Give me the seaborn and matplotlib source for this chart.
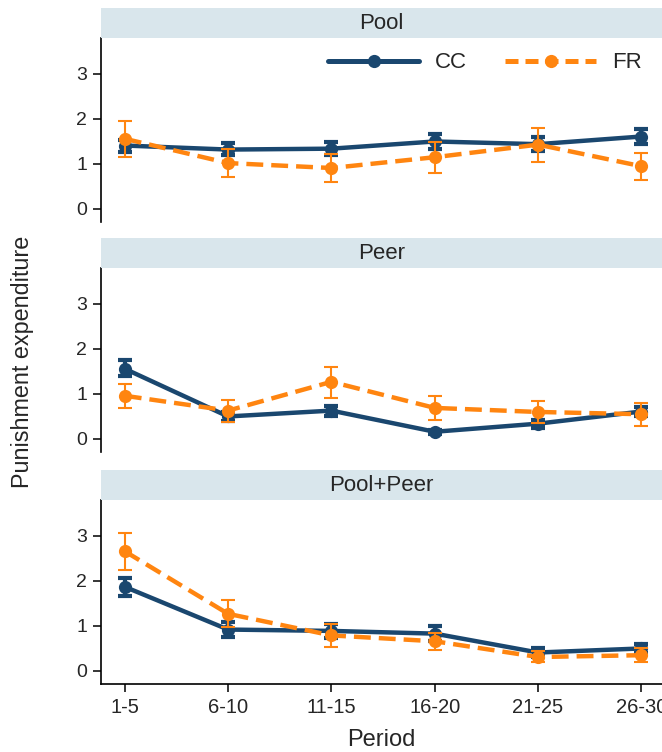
import numpy as np
import pandas as pd
import matplotlib
matplotlib.use("Agg")
import matplotlib.pyplot as plt
import seaborn as sns
from matplotlib.lines import Line2D

periods = ["1-5", "6-10", "11-15", "16-20", "21-25", "26-30"]
panels = ["Pool", "Peer", "Pool+Peer"]

pool_cc = [1.41, 1.32, 1.34, 1.50, 1.44, 1.61]
pool_cc_lo = [1.27, 1.19, 1.21, 1.34, 1.28, 1.45]
pool_cc_hi = [1.53, 1.46, 1.48, 1.66, 1.60, 1.78]
pool_fr = [1.56, 1.02, 0.91, 1.15, 1.43, 0.95]
pool_fr_lo = [1.16, 0.70, 0.59, 0.81, 1.04, 0.65]
pool_fr_hi = [1.96, 1.33, 1.22, 1.48, 1.81, 1.24]

peer_cc = [1.56, 0.50, 0.63, 0.16, 0.34, 0.61]
peer_cc_lo = [1.39, 0.40, 0.52, 0.12, 0.25, 0.50]
peer_cc_hi = [1.76, 0.60, 0.74, 0.20, 0.43, 0.72]
peer_fr = [0.96, 0.63, 1.27, 0.69, 0.60, 0.55]
peer_fr_lo = [0.68, 0.38, 0.90, 0.42, 0.36, 0.29]
peer_fr_hi = [1.22, 0.87, 1.61, 0.95, 0.84, 0.79]

pp_cc = [1.87, 0.92, 0.89, 0.83, 0.41, 0.50]
pp_cc_lo = [1.66, 0.76, 0.73, 0.66, 0.31, 0.39]
pp_cc_hi = [2.07, 1.08, 1.05, 1.00, 0.51, 0.61]
pp_fr = [2.66, 1.27, 0.79, 0.66, 0.31, 0.35]
pp_fr_lo = [2.24, 0.98, 0.53, 0.46, 0.19, 0.19]
pp_fr_hi = [3.07, 1.57, 1.05, 0.85, 0.44, 0.52]

yticks = [0, 1, 2, 3]

data = {
    "Pool": {"CC": (pool_cc, pool_cc_lo, pool_cc_hi), "FR": (pool_fr, pool_fr_lo, pool_fr_hi)},
    "Peer": {"CC": (peer_cc, peer_cc_lo, peer_cc_hi), "FR": (peer_fr, peer_fr_lo, peer_fr_hi)},
    "Pool+Peer": {"CC": (pp_cc, pp_cc_lo, pp_cc_hi), "FR": (pp_fr, pp_fr_lo, pp_fr_hi)},
}

rows = []
for p in panels:
    for g in ["CC", "FR"]:
        m, lo, hi = data[p][g]
        for i, per in enumerate(periods):
            rows.append(dict(panel=p, group=g, period=per, idx=i, mean=m[i], lo=lo[i], hi=hi[i]))
df = pd.DataFrame(rows)

sns.set_theme(style="white")
plt.rcParams["font.family"] = ["Liberation Sans", "DejaVu Sans"]

navy = "#1a476f"
orange = "#ff8510"
strip_col = "#d9e6ec"
dash = (0, (3.8, 1.8))

W, H = 662, 752
fig = plt.figure(figsize=(W / 100, H / 100), dpi=100)

left_px, right_px = 101, 662
# (strip_top, axes_top, axes_bottom) in px
layout = [(8, 38, 222), (238, 268, 452), (470, 500, 684)]

for k, p in enumerate(panels):
    st, at, ab = layout[k]
    ax = fig.add_axes([left_px / W, 1 - ab / H, (right_px - left_px) / W, (ab - at) / H])
    sax = fig.add_axes([left_px / W, 1 - at / H, (right_px - left_px) / W, (at - st) / H])
    sax.set_facecolor(strip_col)
    sax.set_xticks([]); sax.set_yticks([])
    for s in sax.spines.values():
        s.set_visible(False)
    sax.text(0.5, 0.47, p, ha="center", va="center", fontsize=16, transform=sax.transAxes)

    sub = df[df.panel == p]
    for g in ["CC", "FR"]:
        d = sub[sub.group == g]
        if g == "CC":
            ax.errorbar(d["idx"], d["mean"], yerr=[d["mean"] - d["lo"], d["hi"] - d["mean"]],
                        fmt="none", ecolor=navy, elinewidth=3, capsize=5, capthick=3, zorder=2)
        else:
            ax.errorbar(d["idx"], d["mean"], yerr=[d["mean"] - d["lo"], d["hi"] - d["mean"]],
                        fmt="none", ecolor=orange, elinewidth=1.5, capsize=5, capthick=1.5, zorder=4)
    sns.lineplot(data=sub[sub.group == "CC"], x="idx", y="mean", color=navy, lw=3.2,
                 marker="o", markersize=9.5, markeredgewidth=0, ax=ax, legend=False, zorder=3)
    n_before = len(ax.lines)
    sns.lineplot(data=sub[sub.group == "FR"], x="idx", y="mean", color=orange, lw=3.2,
                 marker="o", markersize=9.5, markeredgewidth=0, ax=ax, legend=False, zorder=5)
    for ln in ax.lines[n_before:]:
        ln.set_linestyle(dash)

    ax.set_xlim(-0.23, 5.2)
    ax.set_ylim(-0.29, 3.8)
    ax.set_yticks(yticks)
    ax.set_yticklabels([str(t) for t in yticks], fontsize=14)
    ax.set_ylabel("")
    ax.set_xlabel("")
    ax.spines["top"].set_visible(False)
    ax.spines["right"].set_visible(False)
    ax.spines["left"].set_color("black")
    ax.spines["left"].set_linewidth(1.2)
    ax.tick_params(axis="y", which="both", left=True, length=6, width=1.1, color="black", pad=4)
    if k == 2:
        ax.spines["bottom"].set_color("black")
        ax.spines["bottom"].set_linewidth(1.2)
        ax.set_xticks(range(len(periods)))
        ax.set_xticklabels(periods, fontsize=14.5)
        ax.tick_params(axis="x", bottom=True, length=6, width=1.1, color="black", pad=4)
        ax.set_xlabel("Period", fontsize=17, labelpad=9)
    else:
        ax.spines["bottom"].set_visible(False)
        ax.set_xticks([])
    ax.set_facecolor("white")

    if k == 0:
        handles = [Line2D([], [], color=navy, lw=3.6, marker="o", markersize=9.5, markeredgewidth=0),
                   Line2D([], [], color=orange, lw=3.6, ls=(0, (2.6, 1.4)), marker="o",
                          markersize=9.5, markeredgewidth=0)]
        fig.legend(handles, ["CC", "FR"], loc="center right", ncol=2, frameon=False,
                   fontsize=16, handlelength=4.1, columnspacing=1.7, handletextpad=0.72,
                   bbox_to_anchor=(662 / W, 1 - 63 / H), bbox_transform=fig.transFigure)

fig.text(23 / W, 1 - 362 / H, "Punishment expenditure", rotation=90, ha="center", va="center",
         fontsize=16.8)

fig.savefig("out.png", dpi=100)
